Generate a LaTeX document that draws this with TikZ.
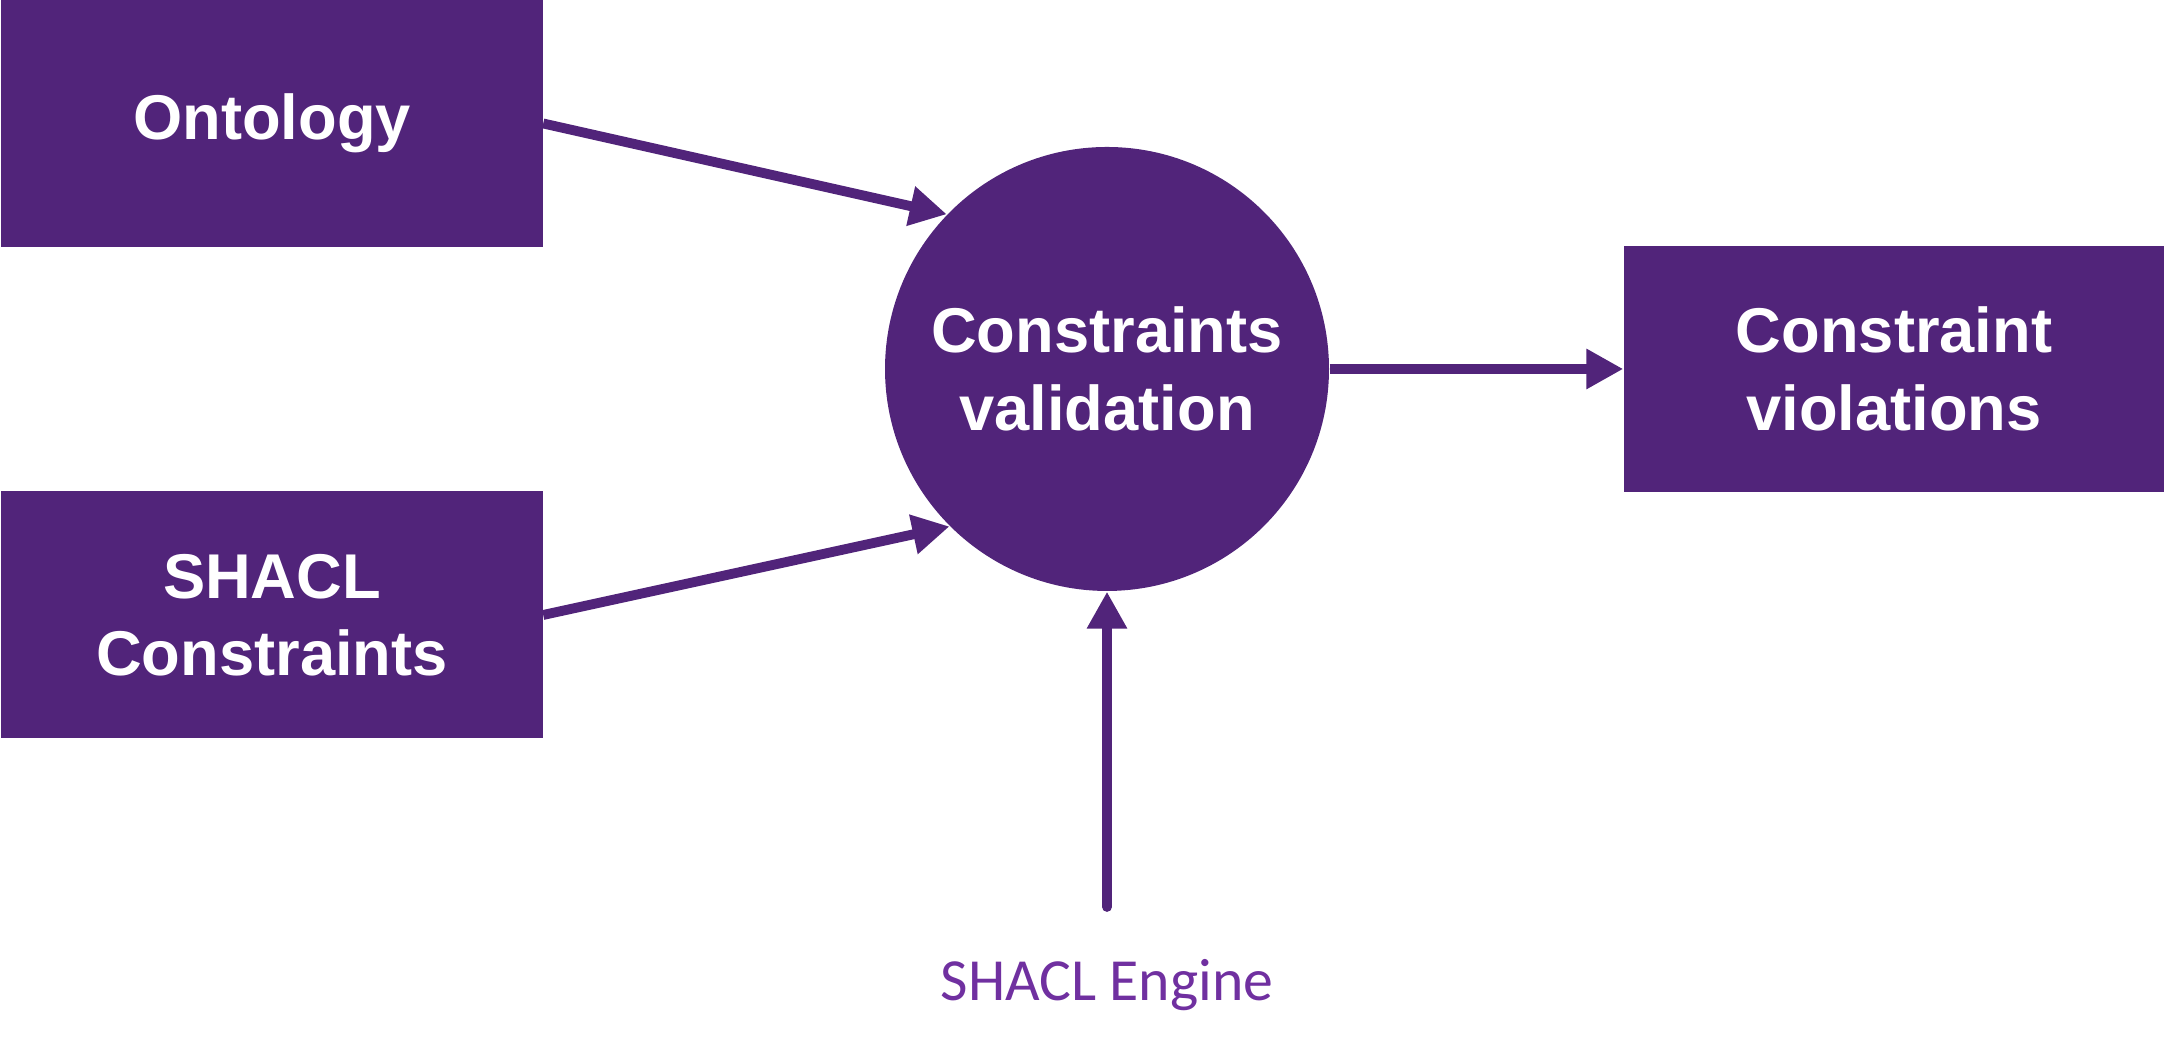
\documentclass[tikz,border=0pt]{standalone}
\usepackage{fontspec}
\setmainfont{Liberation Sans}
\newfontfamily\enginefont{Carlito}
\usepackage{xcolor}
\usetikzlibrary{arrows.meta}
\definecolor{boxpurple}{HTML}{51247A}
\definecolor{textpurple}{HTML}{7030A0}

\begin{document}
\begin{tikzpicture}[
	box/.style={fill=boxpurple, text=white, font=\fontsize{18}{22}\selectfont\bfseries, align=center, inner sep=0pt, minimum width=5.41cm, minimum height=2.47cm},
	conn/.style={draw=boxpurple, line width=2.8pt, -{Triangle[length=0.37cm, width=0.38cm]}}
]
\useasboundingbox (0,0) rectangle (21.67,10.52);

\node[box] (onto) at (2.72, 9.285) {Ontology};
\node[box] (shacl) at (2.72, 4.37) {SHACL\\Constraints};
\node[box, circle, minimum size=4.44cm] (valid) at (11.07, 6.83) {Constraints\\validation};
\node[box, minimum width=5.40cm, minimum height=2.46cm] (viol) at (18.94, 6.83) {Constraint\\violations};

\node[text=textpurple, font=\enginefont\fontsize{17}{20}\selectfont] (engine) at (11.07, 0.67) {SHACL Engine};
\coordinate (enginetop) at (11.07, 1.45);

\draw[conn] (onto.east) -- (valid.136);
\draw[conn] (shacl.east) -- (valid.225);
\draw[conn] (valid.east) -- (viol.west);
\draw[conn, line cap=round] (enginetop) -- (valid.south);
\end{tikzpicture}
\end{document}
